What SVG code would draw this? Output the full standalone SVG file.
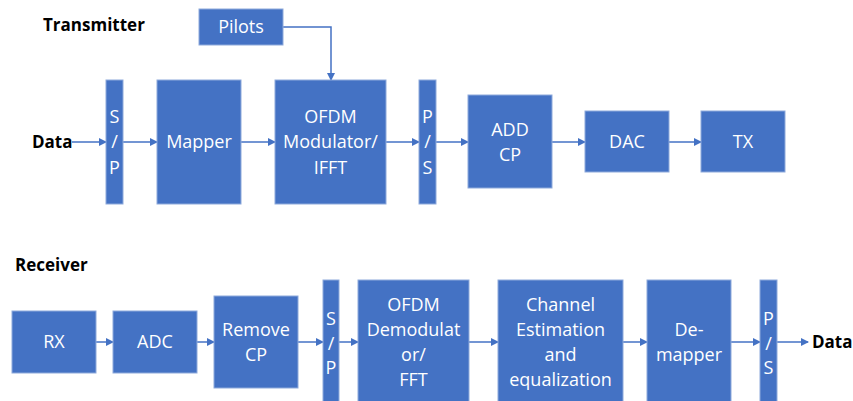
<svg xmlns="http://www.w3.org/2000/svg" width="853" height="401" viewBox="0 0 853 401">
<defs>
<style>
.box{fill:#4472C4;stroke:#8eaadb;stroke-width:1}
.t{font-family:"Open Sans","Liberation Sans",sans-serif;font-size:18px;fill:#ffffff;text-anchor:middle}
.lbl{font-family:"Open Sans","Liberation Sans",sans-serif;font-size:17px;font-weight:bold;fill:#000000}
.c{fill:none;stroke:#4472C4;stroke-width:1.5}
</style>
<marker id="ah" markerWidth="8" markerHeight="8" refX="7" refY="4" orient="auto" markerUnits="userSpaceOnUse">
<path d="M0,0 L8,4 L0,8 Z" fill="#4472C4"/>
</marker>
</defs>
<rect width="853" height="401" fill="#ffffff"/>
<text class="lbl" x="43" y="31">Transmitter</text>
<text class="lbl" x="32" y="148">Data</text>
<text class="lbl" x="15" y="271">Receiver</text>
<text class="lbl" x="812" y="348">Data</text>

<g id="connectors">
<path class="c" d="M72,142 H106" marker-end="url(#ah)"/>
<path class="c" d="M123,142 H157" marker-end="url(#ah)"/>
<path class="c" d="M241,142 H275" marker-end="url(#ah)"/>
<path class="c" d="M386,142 H419" marker-end="url(#ah)"/>
<path class="c" d="M436,142 H468" marker-end="url(#ah)"/>
<path class="c" d="M552,142 H585" marker-end="url(#ah)"/>
<path class="c" d="M669,142 H701" marker-end="url(#ah)"/>
<path class="c" d="M283,27 H331 V80" marker-end="url(#ah)"/>
<path class="c" d="M96,342 H113" marker-end="url(#ah)"/>
<path class="c" d="M197,342 H214" marker-end="url(#ah)"/>
<path class="c" d="M298,342 H323" marker-end="url(#ah)"/>
<path class="c" d="M339,342 H358" marker-end="url(#ah)"/>
<path class="c" d="M469,342 H498" marker-end="url(#ah)"/>
<path class="c" d="M623,342 H647" marker-end="url(#ah)"/>
<path class="c" d="M731,342 H760" marker-end="url(#ah)"/>
<path class="c" d="M777,342 H808" marker-end="url(#ah)"/>
</g>

<g id="pilots"><rect class="box" x="199" y="9" width="84" height="36"/><text class="t" x="241" y="33">Pilots</text></g>
<g id="tx-sp"><rect class="box" x="106" y="80" width="17" height="124"/><text class="t" x="114.5" y="123">S</text><text class="t" x="114.5" y="148">/</text><text class="t" x="114.5" y="174">P</text></g>
<g id="mapper"><rect class="box" x="157" y="80" width="84" height="124"/><text class="t" x="199" y="148">Mapper</text></g>
<g id="ofdm-mod"><rect class="box" x="275" y="80" width="111" height="124"/><text class="t" x="330.5" y="123">OFDM</text><text class="t" x="330.5" y="148">Modulator/</text><text class="t" x="330.5" y="174">IFFT</text></g>
<g id="tx-ps"><rect class="box" x="419" y="80" width="17" height="124"/><text class="t" x="427.5" y="123">P</text><text class="t" x="427.5" y="148">/</text><text class="t" x="427.5" y="174">S</text></g>
<g id="add-cp"><rect class="box" x="468" y="95" width="84" height="93"/><text class="t" x="510" y="136">ADD</text><text class="t" x="510" y="161">CP</text></g>
<g id="dac"><rect class="box" x="585" y="111" width="84" height="61"/><text class="t" x="627" y="148">DAC</text></g>
<g id="tx"><rect class="box" x="701" y="111" width="84" height="61"/><text class="t" x="743" y="148">TX</text></g>

<g id="rx"><rect class="box" x="12" y="311" width="84" height="62"/><text class="t" x="54" y="348">RX</text></g>
<g id="adc"><rect class="box" x="113" y="311" width="84" height="62"/><text class="t" x="155" y="348">ADC</text></g>
<g id="remove-cp"><rect class="box" x="214" y="296" width="84" height="92"/><text class="t" x="256" y="336">Remove</text><text class="t" x="256" y="361">CP</text></g>
<g id="rx-sp"><rect class="box" x="323" y="280" width="16" height="130"/><text class="t" x="331" y="325">S</text><text class="t" x="331" y="350">/</text><text class="t" x="331" y="374">P</text></g>
<g id="ofdm-demod"><rect class="box" x="358" y="280" width="111" height="130"/><text class="t" x="413.5" y="311">OFDM</text><text class="t" x="413.5" y="336">Demodulat</text><text class="t" x="413.5" y="361">or/</text><text class="t" x="413.5" y="386">FFT</text></g>
<g id="channel-est"><rect class="box" x="498" y="280" width="125" height="130"/><text class="t" x="560.5" y="311">Channel</text><text class="t" x="560.5" y="336">Estimation</text><text class="t" x="560.5" y="361">and</text><text class="t" x="560.5" y="386">equalization</text></g>
<g id="demapper"><rect class="box" x="647" y="280" width="84" height="130"/><text class="t" x="689" y="336">De-</text><text class="t" x="689" y="361">mapper</text></g>
<g id="rx-ps"><rect class="box" x="760" y="280" width="17" height="130"/><text class="t" x="768.5" y="325">P</text><text class="t" x="768.5" y="350">/</text><text class="t" x="768.5" y="374">S</text></g>
</svg>
